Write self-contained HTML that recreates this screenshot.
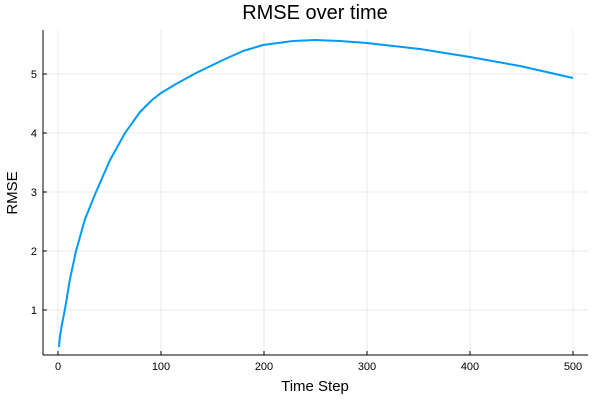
<!DOCTYPE html>
<html><head><meta charset="utf-8"><style>body{margin:0;background:#fff}svg{display:block}</style></head>
<body>
<svg width="600" height="400" xmlns="http://www.w3.org/2000/svg" font-family="Liberation Sans, sans-serif">
<rect width="600" height="400" fill="#fff"/>
<g stroke="#000" stroke-opacity="0.08" stroke-width="1">
<line x1="58" y1="30" x2="58" y2="355"/><line x1="161" y1="30" x2="161" y2="355"/><line x1="264" y1="30" x2="264" y2="355"/><line x1="367" y1="30" x2="367" y2="355"/><line x1="470" y1="30" x2="470" y2="355"/><line x1="573" y1="30" x2="573" y2="355"/>
<line x1="43" y1="310" x2="588" y2="310"/><line x1="43" y1="251" x2="588" y2="251"/><line x1="43" y1="192" x2="588" y2="192"/><line x1="43" y1="133" x2="588" y2="133"/><line x1="43" y1="74" x2="588" y2="74"/>
</g>
<g stroke="#000" stroke-width="1">
<line x1="43" y1="30" x2="43" y2="355"/><line x1="43" y1="355" x2="588" y2="355"/>
<line x1="58" y1="355" x2="58" y2="351"/><line x1="161" y1="355" x2="161" y2="351"/><line x1="264" y1="355" x2="264" y2="351"/><line x1="367" y1="355" x2="367" y2="351"/><line x1="470" y1="355" x2="470" y2="351"/><line x1="573" y1="355" x2="573" y2="351"/>
<line x1="43" y1="310" x2="47" y2="310"/><line x1="43" y1="251" x2="47" y2="251"/><line x1="43" y1="192" x2="47" y2="192"/><line x1="43" y1="133" x2="47" y2="133"/><line x1="43" y1="74" x2="47" y2="74"/>
</g>
<g font-size="11" fill="#000" text-anchor="middle">
<text x="58" y="370">0</text><text x="161" y="370">100</text><text x="264" y="370">200</text><text x="367" y="370">300</text><text x="470" y="370">400</text><text x="573" y="370">500</text>
</g>
<g font-size="11" fill="#000" text-anchor="end">
<text x="37" y="314">1</text><text x="37" y="255">2</text><text x="37" y="196">3</text><text x="37" y="137">4</text><text x="37" y="78">5</text>
</g>
<text x="315" y="391" font-size="15" text-anchor="middle">Time Step</text>
<text x="17" y="193" font-size="15" text-anchor="middle" transform="rotate(-90 17 193)">RMSE</text>
<text x="315" y="19" font-size="20" text-anchor="middle">RMSE over time</text>
<polyline fill="none" stroke="#009af9" stroke-width="2" stroke-linejoin="round"
points="59,347 60,336 62,324 65,309 70,279 76,251 85,219 96,192 110,160 125,133 140,112 152,100 161,93 176,84 196,73 223,60 243,51 263,45 293,41 315,40 340,41 367,43 420,49 470,57 520,66 573,78"/>
</svg>
</body></html>
